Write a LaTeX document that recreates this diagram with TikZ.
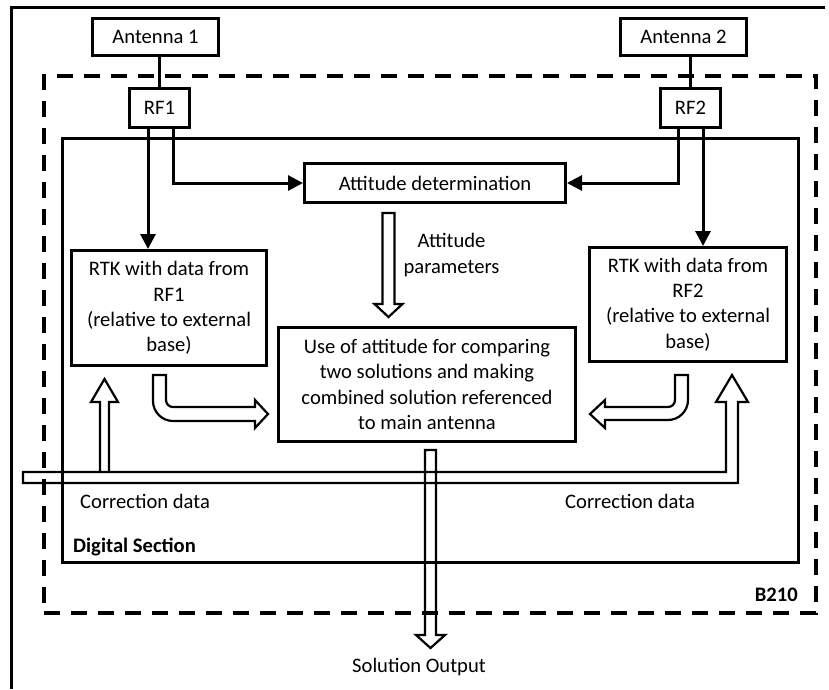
\documentclass[tikz,border=0pt]{standalone}
\usepackage{fontspec}
\setmainfont{Carlito}
\usetikzlibrary{arrows.meta,calc}
\newcommand\dfont{\fontsize{20.6}{25.3}\selectfont}
\begin{document}
\begin{tikzpicture}[x=1pt,y=-1pt,
  box/.style={draw,line width=3pt,inner sep=0pt,align=center,font=\dfont},
  conn/.style={line width=3pt,-{Triangle[length=15pt,width=15pt]}},
  plainline/.style={line width=3pt},
  hollow/.style={draw,line width=2.2pt,line join=miter},
  lbl/.style={inner sep=0pt,align=center,font=\dfont},
  dashedframe/.style={draw,line width=4pt,dash pattern=on 16pt off 11pt},
  solidframe/.style={draw,line width=3pt}]
\useasboundingbox (0,0) rectangle (829,689);

% outer frame (top and left only)
\draw[line width=3pt] (825,7.5) -- (11.5,7.5) -- (11.5,689);

% containers
\node[dashedframe,minimum width=772pt,minimum height=537pt,inner sep=0pt] (b210box) at (430,344.5) {};
\node[solidframe,minimum width=736pt,minimum height=424pt,inner sep=0pt] (dig) at (430.5,350.5) {};

% blocks
\node[box,minimum width=126pt,minimum height=37pt] (ant1) at (155.5,37) {Antenna 1};
\node[box,minimum width=126pt,minimum height=37pt] (ant2) at (683.5,37) {Antenna 2};
\node[box,minimum width=60pt,minimum height=39pt] (rf1) at (159.5,108) {RF1};
\node[box,minimum width=60pt,minimum height=39pt] (rf2) at (690.5,108) {RF2};
\node[box,minimum width=261pt,minimum height=39pt] (att) at (435,183) {Attitude determination};
\node[box,minimum width=195pt,minimum height=115pt] (rtk1) at (169,308)
  {RTK with data from\\RF1\\(relative to external\\base)};
\node[box,minimum width=197pt,minimum height=114pt] (rtk2) at (688,304.5)
  {RTK with data from\\RF2\\(relative to external\\base)};
\node[box,minimum width=297pt,minimum height=114pt] (use) at (427,384.5)
  {Use of attitude for comparing\\two solutions and making\\combined solution referenced\\to main antenna};

% labels
\node[lbl] (attpar) at (451.5,255) {Attitude\\parameters};
\node[lbl,anchor=west] (corr1) at (80,501) {Correction data};
\node[lbl,anchor=west] (corr2) at (565,501) {Correction data};
\node[lbl,anchor=west,font=\dfont\bfseries] (dsec) at (73,547) {Digital Section};
\node[lbl,anchor=east,font=\dfont\bfseries] (b210lbl) at (798,595) {B210};
\node[lbl] (solout) at (419,667) {Solution Output};

% antenna to RF
\draw[plainline] (rf1.north) -- (rf1.north |- ant1.south);
\draw[plainline] (rf2.north) -- (rf2.north |- ant2.south);

% RF connectors
\draw[conn] ([xshift=-11.5pt]rf1.south) -- ([xshift=-11.5pt]rf1.south |- rtk1.north);
\draw[conn] ([xshift=13.5pt]rf1.south) |- (att.west);
\draw[conn] ([xshift=-12.5pt]rf2.south) |- (att.east);
\draw[conn] ([xshift=12.5pt]rf2.south) -- ([xshift=12.5pt]rf2.south |- rtk2.north);

% hollow arrow: attitude parameters
\draw[hollow] (382.5,213) -- (394.5,213) -- (394.5,304) -- (402.5,304) -- (388.5,317)
  -- (374.5,304) -- (382.5,304) -- cycle;

% hollow arrow: solution output
\draw[hollow] (425,450) -- (436,450) -- (436,635) -- (445,635) -- (430.5,648)
  -- (416,635) -- (425,635) -- cycle;

% correction data bar with right arrow
\draw[hollow] (23,472) -- (726,472) -- (726,402) -- (716,402) -- (732,375) -- (748,402)
  -- (738,402) -- (738,483) -- (23,483) -- cycle;
% left correction arrow
\draw[hollow] (100,472) -- (100,402) -- (91,402) -- (104.5,379) -- (118,402) -- (109,402) -- (109,472);

% bent arrow from RTK1
\draw[hollow] (153,375) -- (166,375) -- (166,400) .. controls (166,403.9) and (169.1,407) .. (173,407)
  -- (255,407) -- (255,400) -- (268,414) -- (255,428) -- (255,421) -- (173,421)
  .. controls (162,421) and (153,412) .. (153,401) -- cycle;

% bent arrow from RTK2
\draw[hollow] (688,375) -- (675,375) -- (675,400) .. controls (675,403.9) and (671.9,407) .. (668,407)
  -- (605,407) -- (605,400) -- (590,414) -- (605,428) -- (605,420) -- (668,420)
  .. controls (679,420) and (688,411) .. (688,400) -- cycle;
\end{tikzpicture}
\end{document}
